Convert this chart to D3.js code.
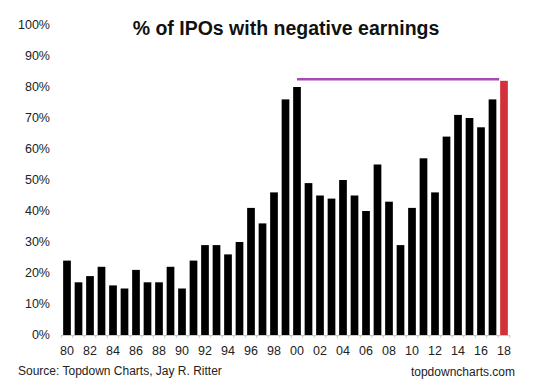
<!DOCTYPE html>
<html>
<head>
<meta charset="utf-8">
<script src="https://cdn.jsdelivr.net/npm/d3@7"></script>
<style>
  body { margin: 0; background: #fff; }
  svg { display: block; font-family: "Liberation Sans", Arial, sans-serif; }
</style>
</head>
<body>
<div id="chart"></div>
<script>
// data
const years = d3.range(1980, 2019);
const values = [24, 17, 19, 22, 16, 15, 21, 17, 17, 22,
                15, 24, 29, 29, 26, 30, 41, 36, 46, 76,
                80, 49, 45, 44, 50, 45, 40, 55, 43, 29,
                41, 57, 46, 64, 71, 70, 67, 76, 82];
const yTicks = [0, 10, 20, 30, 40, 50, 60, 70, 80, 90, 100];
const refLevel = 82.5;          // the purple line
const refFrom = 2000, refTo = 2018;
const highlightYear = 2018;

const width = 550, height = 389;
const data = years.map((y, i) => ({ year: y, value: values[i] }));

const svg = d3.select('#chart')
  .append('svg')
  .attr('width', width)
  .attr('height', height);

const x = d3.scaleBand()
  .domain(years)
  .range([61.25, 509.75])
  .paddingInner(0.33)
  .paddingOuter(0.165);

const y = d3.scaleLinear()
  .domain([0, 100])
  .range([335, 25]);

// title
svg.append('text')
  .attr('x', 286)
  .attr('y', 35)
  .attr('text-anchor', 'middle')
  .attr('font-size', 19.5)
  .attr('font-weight', 'bold')
  .attr('fill', '#111')
  .text('% of IPOs with negative earnings');

// y labels, no axis line
svg.append('g')
  .selectAll('text')
  .data(yTicks)
  .join('text')
  .attr('x', 50)
  .attr('y', d => y(d))
  .attr('dy', '0.35em')
  .attr('text-anchor', 'end')
  .attr('font-size', 12.5)
  .attr('fill', '#222')
  .text(d => d + '%');

// bars
svg.append('g')
  .selectAll('rect')
  .data(data)
  .join('rect')
  .attr('x', d => x(d.year))
  .attr('y', d => y(d.value))
  .attr('width', x.bandwidth())
  .attr('height', d => y(0) - y(d.value))
  .attr('fill', d => d.year === highlightYear ? '#d3303c' : '#000');

// baseline with small ticks between bars
const base = svg.append('g');
base.append('line')
  .attr('x1', x.range()[0])
  .attr('x2', x.range()[1])
  .attr('y1', y(0) + 0.5)
  .attr('y2', y(0) + 0.5)
  .attr('stroke', '#c8c8c8');
base.selectAll('.tk')
  .data(years.concat([2019]))
  .join('line')
  .attr('class', 'tk')
  .attr('x1', (d, i) => x.range()[0] + i * x.step())
  .attr('x2', (d, i) => x.range()[0] + i * x.step())
  .attr('y1', y(0))
  .attr('y2', y(0) + 3)
  .attr('stroke', '#c8c8c8');

// x labels every other year
svg.append('g')
  .selectAll('text')
  .data(years.filter(d => d % 2 === 0))
  .join('text')
  .attr('x', d => x(d) + x.bandwidth() / 2)
  .attr('y', 351)
  .attr('dy', '0.35em')
  .attr('text-anchor', 'middle')
  .attr('font-size', 12.5)
  .attr('fill', '#222')
  .text(d => String(d % 100).padStart(2, '0'));

// reference line
svg.append('line')
  .attr('x1', x(refFrom) + x.bandwidth() / 2)
  .attr('x2', x(refTo) - 1)
  .attr('y1', y(refLevel))
  .attr('y2', y(refLevel))
  .attr('stroke', '#a849b8')
  .attr('stroke-width', 2.5);

// footer
svg.append('text')
  .attr('x', 18)
  .attr('y', 375)
  .attr('font-size', 12)
  .attr('fill', '#222')
  .text('Source: Topdown Charts, Jay R. Ritter');

svg.append('text')
  .attr('x', 515)
  .attr('y', 376)
  .attr('text-anchor', 'end')
  .attr('font-size', 12)
  .attr('fill', '#222')
  .text('topdowncharts.com');
</script>
</body>
</html>
